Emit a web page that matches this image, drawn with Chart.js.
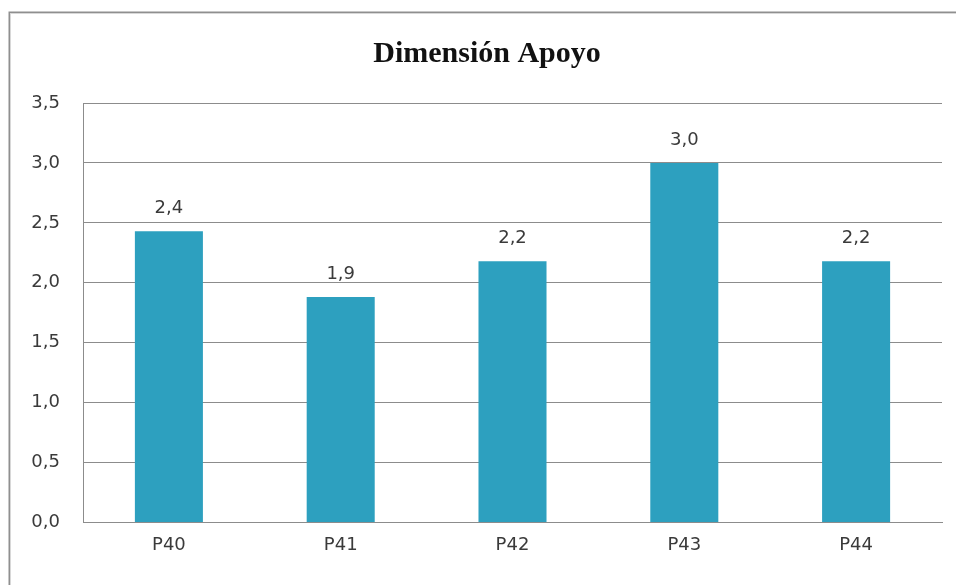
<!DOCTYPE html>
<html lang="es">
<head>
<meta charset="utf-8">
<title>Dimensión Apoyo</title>
<script src="https://cdn.jsdelivr.net/npm/chart.js@4/dist/chart.umd.min.js"></script>
<style>
  html, body { margin: 0; padding: 0; background: #ffffff; }
  #wrap { position: relative; width: 956px; height: 585px; }
</style>
</head>
<body>
<div id="wrap"><canvas id="chart"></canvas></div>
<script>
// Chart data
const chartTitle = 'Dimensión Apoyo';
const categories = ['P40', 'P41', 'P42', 'P43', 'P44'];
const values = [2.43, 1.88, 2.18, 3.0, 2.18];
const yTicks = [0, 0.5, 1.0, 1.5, 2.0, 2.5, 3.0, 3.5];

const BAR_COLOR = '#2da0bf';
const GRID_COLOR = '#8c8c8c';
const TEXT_COLOR = '#3a3a3a';
const LABEL_FONT = '18px "DejaVu Sans", Verdana, sans-serif';

const fmt = v => v.toFixed(1).replace('.', ',');

// White background and the frame around the chart
const framePlugin = {
  id: 'frame',
  beforeDraw(chart) {
    const ctx = chart.ctx;
    ctx.save();
    ctx.fillStyle = '#ffffff';
    ctx.fillRect(0, 0, chart.width, chart.height);
    ctx.strokeStyle = '#d8d8d8';
    ctx.lineWidth = 1;
    ctx.strokeRect(10.5, 13.5, chart.width + 20, chart.height + 20);
    ctx.strokeStyle = '#8f8f8f';
    ctx.lineWidth = 1.5;
    ctx.strokeRect(9.25, 12.25, chart.width + 20, chart.height + 20);
    ctx.restore();
  }
};

// Value labels above each bar
const valueLabels = {
  id: 'valueLabels',
  afterDatasetsDraw(chart) {
    const ctx = chart.ctx;
    const meta = chart.getDatasetMeta(0);
    ctx.save();
    ctx.font = LABEL_FONT;
    ctx.fillStyle = TEXT_COLOR;
    ctx.textAlign = 'center';
    ctx.textBaseline = 'bottom';
    meta.data.forEach((bar, i) => {
      ctx.fillText(fmt(values[i]), bar.x, bar.y - 14);
    });
    ctx.restore();
  }
};

new Chart(document.getElementById('chart'), {
  type: 'bar',
  data: {
    labels: categories,
    datasets: [{
      data: values,
      backgroundColor: BAR_COLOR,
      borderWidth: 0,
      categoryPercentage: 1.0,
      barPercentage: 0.396
    }]
  },
  options: {
    responsive: true,
    maintainAspectRatio: false,
    animation: false,
    layout: { padding: { top: 14, left: 32, right: 14, bottom: 17 } },
    plugins: {
      legend: { display: false },
      tooltip: { enabled: false },
      title: {
        display: true,
        text: chartTitle,
        color: '#111111',
        font: { family: '"Liberation Serif", "Times New Roman", serif', size: 30, weight: 'bold' },
        padding: { top: 22, bottom: 31 }
      }
    },
    scales: {
      x: {
        grid: { display: false, drawTicks: false },
        border: { display: true, color: GRID_COLOR, width: 1 },
        ticks: {
          color: TEXT_COLOR,
          font: { family: '"DejaVu Sans", Verdana, sans-serif', size: 18 },
          padding: 12
        }
      },
      y: {
        min: 0,
        max: 3.5,
        afterBuildTicks(axis) {
          axis.ticks = yTicks.map(v => ({ value: v }));
        },
        afterFit(axis) { axis.width = 51; },
        grid: { color: GRID_COLOR, lineWidth: 1, drawTicks: false },
        border: { display: true, color: GRID_COLOR, width: 1 },
        ticks: {
          color: TEXT_COLOR,
          font: { family: '"DejaVu Sans", Verdana, sans-serif', size: 18 },
          padding: 23,
          callback: v => fmt(v)
        }
      }
    }
  },
  plugins: [framePlugin, valueLabels]
});
</script>
</body>
</html>
